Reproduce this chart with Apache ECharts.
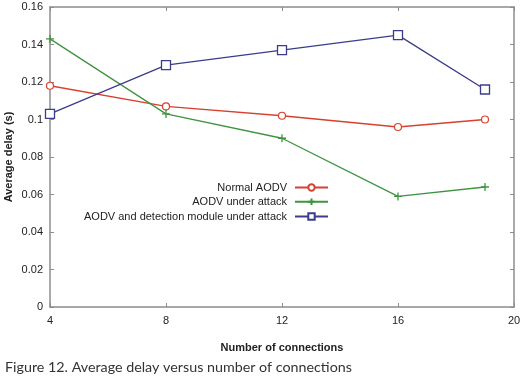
<!DOCTYPE html>
<html><head><meta charset="utf-8">
<script src="https://cdn.jsdelivr.net/npm/echarts@6/dist/echarts.min.js"></script>
<style>html,body{margin:0;padding:0;background:#fff}#c{width:524px;height:380px}</style>
</head><body><div id="c"></div>
<script>
var connections = [4, 8, 12, 16, 19];
var normalAODV = [0.118, 0.107, 0.102, 0.096, 0.100];
var aodvAttack = [0.143, 0.103, 0.090, 0.059, 0.064];
var aodvDetect = [0.103, 0.129, 0.137, 0.145, 0.116];
var seriesNames = ['Normal AODV', 'AODV under attack', 'AODV and detection module under attack'];
var xTicks = [4, 8, 12, 16, 20];
var yTicks = [0, 0.02, 0.04, 0.06, 0.08, 0.1, 0.12, 0.14, 0.16];
var caption = 'Figure 12. Average delay versus number of connections';

function pairs(xs, ys){ return xs.map(function(x,i){return [x, ys[i]];}); }
var font = 'Liberation Sans, Arial, sans-serif';
var frame = '#8c8c8c';
var cols = ['#d8412f', '#3f9440', '#3c3c8c'];

var chart = echarts.init(document.getElementById('c'));
function legend(i, top){
  return {data:[seriesNames[i]], orient:'vertical', right:195, top:top, padding:0,
    align:'right', itemWidth:33, itemHeight:8,
    textStyle:{fontFamily:font, fontSize:11, color:'#222', padding:[0,3,0,0]}};
}
chart.setOption({
  animation:false,
  backgroundColor:'#fff',
  grid:{left:50, right:10, top:7, bottom:73, show:false, containLabel:false, outerBoundsMode:'none'},
  legend:[legend(0,182), legend(1,196), legend(2,211)],
  xAxis:[{
    type:'value', min:xTicks[0], max:xTicks[xTicks.length-1], interval:4,
    name:'Number of connections', nameLocation:'middle', nameGap:35, nameMoveOverlap:false,
    nameTextStyle:{fontFamily:font, fontSize:11, fontWeight:'bold', color:'#222'},
    axisLine:{show:true, lineStyle:{color:frame, width:1.5}},
    axisTick:{show:true, inside:true, length:4, lineStyle:{color:frame}},
    axisLabel:{fontFamily:font, fontSize:11, color:'#222', margin:8},
    splitLine:{show:false}
  },{
    type:'value', position:'top', min:xTicks[0], max:xTicks[xTicks.length-1], interval:4,
    axisLine:{show:true, onZero:false, lineStyle:{color:frame, width:1.5}},
    axisTick:{show:true, inside:true, length:4, lineStyle:{color:frame}},
    axisLabel:{show:false}, splitLine:{show:false}
  }],
  yAxis:[{
    type:'value', min:yTicks[0], max:yTicks[yTicks.length-1], interval:0.02,
    name:'Average delay (s)', nameLocation:'middle', nameGap:36, nameMoveOverlap:false,
    nameTextStyle:{fontFamily:font, fontSize:11, fontWeight:'bold', color:'#222'},
    axisLine:{show:true, lineStyle:{color:frame, width:1.5}},
    axisTick:{show:true, inside:true, length:4, lineStyle:{color:frame}},
    axisLabel:{fontFamily:font, fontSize:11, color:'#222', margin:7},
    splitLine:{show:false}
  },{
    type:'value', position:'right', min:yTicks[0], max:yTicks[yTicks.length-1], interval:0.02,
    axisLine:{show:true, onZero:false, lineStyle:{color:frame, width:1.5}},
    axisTick:{show:true, inside:true, length:4, lineStyle:{color:frame}},
    axisLabel:{show:false}, splitLine:{show:false}
  }],
  series:[{
    name:seriesNames[0], type:'line', data:pairs(connections, normalAODV),
    symbol:'circle', symbolSize:7, showAllSymbol:true,
    lineStyle:{color:cols[0], width:1.3},
    itemStyle:{color:'#fff', borderColor:cols[0], borderWidth:1.2}
  },{
    name:seriesNames[1], type:'line', data:pairs(connections, aodvAttack),
    symbol:'path://M0,5L10,5M5,0L5,10', symbolSize:8, showAllSymbol:true,
    lineStyle:{color:cols[1], width:1.3},
    itemStyle:{color:'none', borderColor:cols[1], borderWidth:1.3}
  },{
    name:seriesNames[2], type:'line', data:pairs(connections, aodvDetect),
    symbol:'rect', symbolSize:9, showAllSymbol:true,
    lineStyle:{color:cols[2], width:1.3},
    itemStyle:{color:'#fff', borderColor:cols[2], borderWidth:1.3}
  }],
  graphic:[{
    type:'text', left:5, top:360,
    style:{text:caption, font:'14.3px Lato, "Open Sans", sans-serif', fill:'#333'}
  }]
});
</script></body></html>
